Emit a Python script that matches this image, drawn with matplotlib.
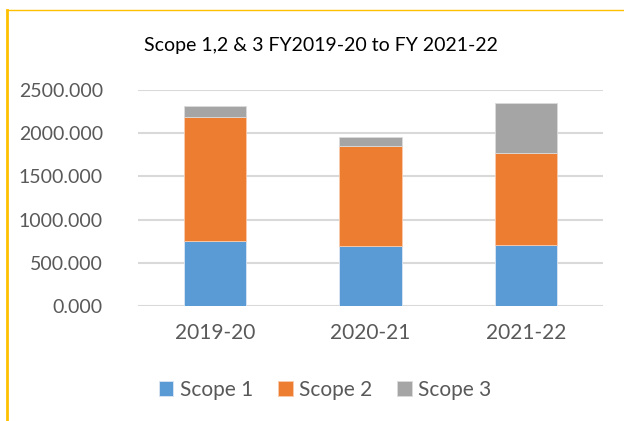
import numpy as np
import matplotlib
matplotlib.use("Agg")
import matplotlib.pyplot as plt
from matplotlib.lines import Line2D

# data
years = ["2019-20", "2020-21", "2021-22"]
scope1 = [749, 691, 710]
scope2 = [1442, 1157, 1057]
scope3 = [124, 112, 579]

plt.rcParams["font.family"] = ["Lato", "DejaVu Sans"]

fig = plt.figure(figsize=(6.24, 4.21), dpi=100)
ax = fig.add_axes([0.2207, 0.2732, 0.7461, 0.5130])

x = np.arange(len(years))
s1 = np.array(scope1)
s2 = np.array(scope2)
s3 = np.array(scope3)

ax.bar(x, s1, width=0.4, color="#5B9BD5", edgecolor="#DCE6F2", linewidth=0.6, label="Scope 1", zorder=3)
ax.bar(x, s2, width=0.4, bottom=s1, color="#ED7D31", edgecolor="#F8CBAD", linewidth=0.6, label="Scope 2", zorder=3)
ax.bar(x, s3, width=0.4, bottom=s1 + s2, color="#A5A5A5", edgecolor="#DBDBDB", linewidth=0.6, label="Scope 3", zorder=3)

ax.set_xlim(-0.5, 2.5)
ax.set_ylim(0, 2500)
ax.set_yticks(np.arange(0, 2501, 500))
ax.set_yticklabels([f"{v:.3f}" for v in np.arange(0, 2501, 500)])
ax.set_xticks(x)
ax.set_xticklabels(years)
ax.tick_params(axis="both", length=0, labelsize=15, labelcolor="#595959")
ax.tick_params(axis="y", labelsize=14, pad=25)
ax.tick_params(axis="x", pad=12)
ax.grid(axis="y", color="#D9D9D9", linewidth=1.5, zorder=0)
for sp in ax.spines.values():
    sp.set_visible(False)

fig.text(0.515, 0.893, "Scope 1,2 & 3 FY2019-20 to FY 2021-22", ha="center", va="center",
         fontsize=14, color="#000000")

ax.legend(loc="center", bbox_to_anchor=(325 / 624, 1 - 390 / 421), bbox_transform=fig.transFigure,
          ncol=3, frameon=False, fontsize=15, labelcolor="#595959",
          handlelength=0.7, handleheight=0.7, handletextpad=0.3, columnspacing=1.2)

# yellow border of the chart frame
fig.add_artist(Line2D([6.5 / 624, 6.5 / 624], [0, 1 - 9.7 / 421], transform=fig.transFigure,
                      color="#FFC000", linewidth=2.0))
fig.add_artist(Line2D([6.5 / 624, 1], [1 - 9.7 / 421, 1 - 9.7 / 421], transform=fig.transFigure,
                      color="#FFC000", linewidth=1.0))

fig.savefig("out.png", dpi=100)
